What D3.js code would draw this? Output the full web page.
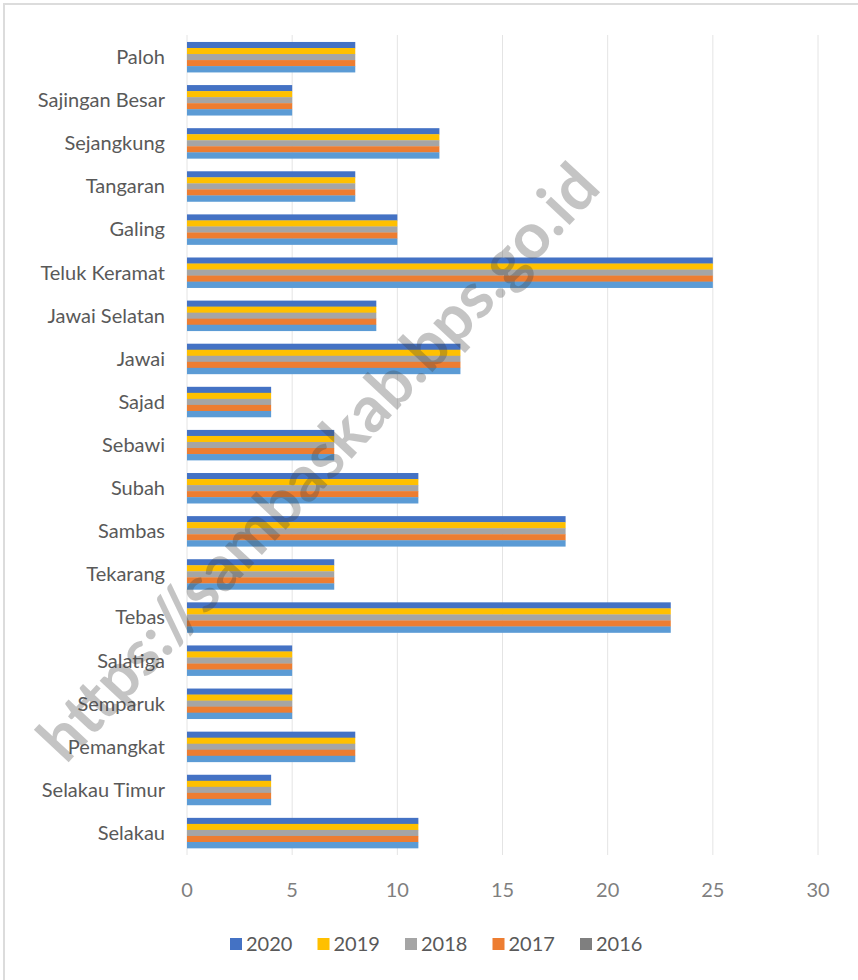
<!DOCTYPE html>
<html>
<head>
<meta charset="utf-8">
<script src="https://cdn.jsdelivr.net/npm/d3@7"></script>
<style>
  body { margin: 0; background: #fff; }
  svg { display: block; font-family: Lato, "Open Sans", sans-serif; }
</style>
</head>
<body>
<svg width="858" height="980"></svg>
<script>
// kecamatan, top to bottom as drawn
const kecamatan = ['Paloh','Sajingan Besar','Sejangkung','Tangaran','Galing','Teluk Keramat',
  'Jawai Selatan','Jawai','Sajad','Sebawi','Subah','Sambas','Tekarang','Tebas','Salatiga',
  'Semparuk','Pemangkat','Selakau Timur','Selakau'];
const years = ['2020','2019','2018','2017','2016'];
const v2020 = [8,5,12,8,10,25,9,13,4,7,11,18,7,23,5,5,8,4,11];
const v2019 = [8,5,12,8,10,25,9,13,4,7,11,18,7,23,5,5,8,4,11];
const v2018 = [8,5,12,8,10,25,9,13,4,7,11,18,7,23,5,5,8,4,11];
const v2017 = [8,5,12,8,10,25,9,13,4,7,11,18,7,23,5,5,8,4,11];
const v2016 = [8,5,12,8,10,25,9,13,4,7,11,18,7,23,5,5,8,4,11];
const xTicks = [0,5,10,15,20,25,30];

const series = {'2020':v2020,'2019':v2019,'2018':v2018,'2017':v2017,'2016':v2016};
const barColor = {'2020':'#4472C4','2019':'#FFC000','2018':'#A5A5A5','2017':'#ED7D31','2016':'#5B9BD5'};
const legendColor = {'2020':'#4472C4','2019':'#FFC000','2018':'#A5A5A5','2017':'#ED7D31','2016':'#7F7F7F'};

const svg = d3.select('svg');

// faint frame like the screenshot
svg.append('rect').attr('x',4).attr('y',4).attr('width',860).attr('height',990)
   .attr('fill','none').attr('stroke','#dcdcdc').attr('stroke-width',2);

const x = d3.scaleLinear().domain([0,30]).range([187,818]);
const y = d3.scaleBand().domain(kecamatan).range([35.5,854.5]).paddingInner(0.3).paddingOuter(0.15);
const yy = d3.scaleBand().domain(years).range([0,y.bandwidth()]);

// grid
svg.append('g').selectAll('line').data(xTicks).enter().append('line')
   .attr('x1',d=>x(d)).attr('x2',d=>x(d)).attr('y1',35).attr('y2',855)
   .attr('stroke','#e4e4e4').attr('stroke-width',1);

// bars
const rows = svg.append('g').selectAll('g').data(kecamatan).enter().append('g')
   .attr('transform',d=>'translate(0,'+y(d)+')');
rows.selectAll('rect').data((d,i)=>years.map(yr=>({yr:yr,val:series[yr][i]}))).enter().append('rect')
   .attr('x',x(0)).attr('y',d=>yy(d.yr)).attr('height',yy.bandwidth()+0.3)
   .attr('width',d=>x(d.val)-x(0)).attr('fill',d=>barColor[d.yr]);

// category labels
svg.append('g').selectAll('text').data(kecamatan).enter().append('text')
   .attr('x',165).attr('y',d=>y(d)+y.bandwidth()/2).attr('dy','0.35em')
   .attr('text-anchor','end').attr('font-size',20).attr('fill','#595959').text(d=>d);

// x tick labels
svg.append('g').selectAll('text').data(xTicks).enter().append('text')
   .attr('x',d=>x(d)).attr('y',890).attr('dy','0.35em').attr('text-anchor','middle')
   .attr('font-size',20).attr('fill','#7f7f7f').text(d=>d);

// legend
const lg = svg.append('g').selectAll('g').data(years).enter().append('g')
   .attr('transform',(d,i)=>'translate('+(230+i*87.5)+',944)');
lg.append('rect').attr('x',0).attr('y',-6).attr('width',12).attr('height',12).attr('fill',d=>legendColor[d]);
lg.append('text').attr('x',16).attr('dy','0.35em').attr('font-size',20).attr('fill','#595959').text(d=>d);

// watermark
svg.append('text').attr('transform','translate(318,462) rotate(-47)')
   .attr('text-anchor','middle').attr('dy','0.35em')
   .attr('font-size',64).attr('font-weight','bold').attr('fill','#404040').attr('opacity',0.3)
   .text('https://sambaskab.bps.go.id');
</script>
</body>
</html>
